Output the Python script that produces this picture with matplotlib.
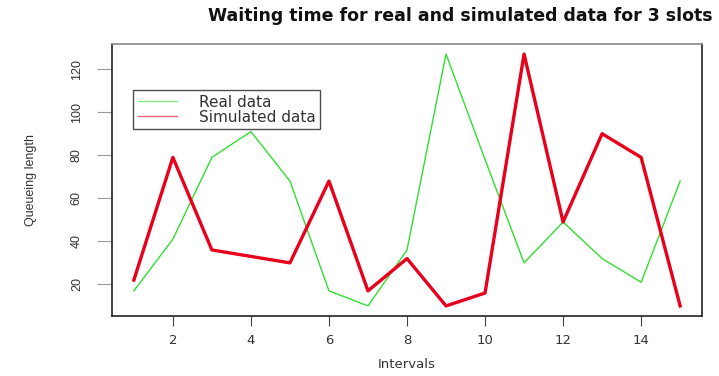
import numpy as np
import matplotlib
matplotlib.use("Agg")
import matplotlib.pyplot as plt

# Values
intervals = list(range(1, 16))
real_data = [17, 41, 79, 91, 68, 17, 10, 36, 127, 78, 30, 49, 32, 21, 68]
simulated_data = [22, 79, 36, 33, 30, 68, 17, 32, 10, 16, 127, 49, 90, 79, 10]
x_ticks = [2, 4, 6, 8, 10, 12, 14]
y_ticks = [20, 40, 60, 80, 100, 120]

W, H = 719, 376
fig = plt.figure(figsize=(W / 100, H / 100), dpi=100)

# plot box in pixels: x 112..702, y 44..316
ax = fig.add_axes([112 / W, 1 - 316 / H, (702 - 112) / W, (316 - 44) / H])

ax.plot(intervals, real_data, color="#33dd33", lw=1.0, label="Real data")
ax.plot(intervals, simulated_data, color="#e8001c", lw=2.4, label="Simulated data")

# R-style 4% padding
def padded(vals):
    lo, hi = min(vals), max(vals)
    d = (hi - lo) * 0.04
    return lo - d, hi + d

ax.set_xlim(*padded(intervals))
ax.set_ylim(*padded(real_data + simulated_data))

ax.set_xticks(x_ticks)
ax.set_yticks(y_ticks)
ax.tick_params(axis="x", length=7, width=0.8, color="#444444", labelsize=9.5,
               labelcolor="#333333", pad=6)
ax.tick_params(axis="y", length=11, width=0.8, color="#999999", labelsize=9,
               labelcolor="#333333", pad=10)
for lab in ax.get_yticklabels():
    lab.set_rotation(90)
    lab.set_va("center")
    lab.set_family(["Liberation Sans Narrow", "Liberation Sans"])

for side in ["left", "bottom", "right"]:
    ax.spines[side].set_color("#222222")
    ax.spines[side].set_linewidth(1.2)
ax.spines["top"].set_color("#888888")
ax.spines["top"].set_linewidth(1.2)

ax.set_xlabel("Intervals", fontsize=9.5, color="#333333", labelpad=8)
ax.set_ylabel("Queueing length", fontsize=9, color="#333333", labelpad=24,
              family=["Liberation Sans Narrow", "Liberation Sans"])

fig.text(460 / W, 1 - 16 / H, "Waiting time for real and simulated data for 3 slots",
         ha="center", va="center", fontsize=12.5, fontweight="bold", color="#111111")

leg = ax.legend(loc="upper left", bbox_to_anchor=((133 - 112) / 590, (316 - 90) / 272),
                fontsize=11, frameon=True, fancybox=False, borderpad=0.3,
                handlelength=2.6, handletextpad=1.4, labelspacing=0.0,
                borderaxespad=0)
leg.get_frame().set_edgecolor("#222222")
leg.get_frame().set_linewidth(1.0)
for t in leg.get_texts():
    t.set_color("#333333")
for ln in leg.get_lines():
    ln.set_linewidth(1.0)
    ln.set_alpha(0.6)

fig.savefig("out.png", dpi=100)
